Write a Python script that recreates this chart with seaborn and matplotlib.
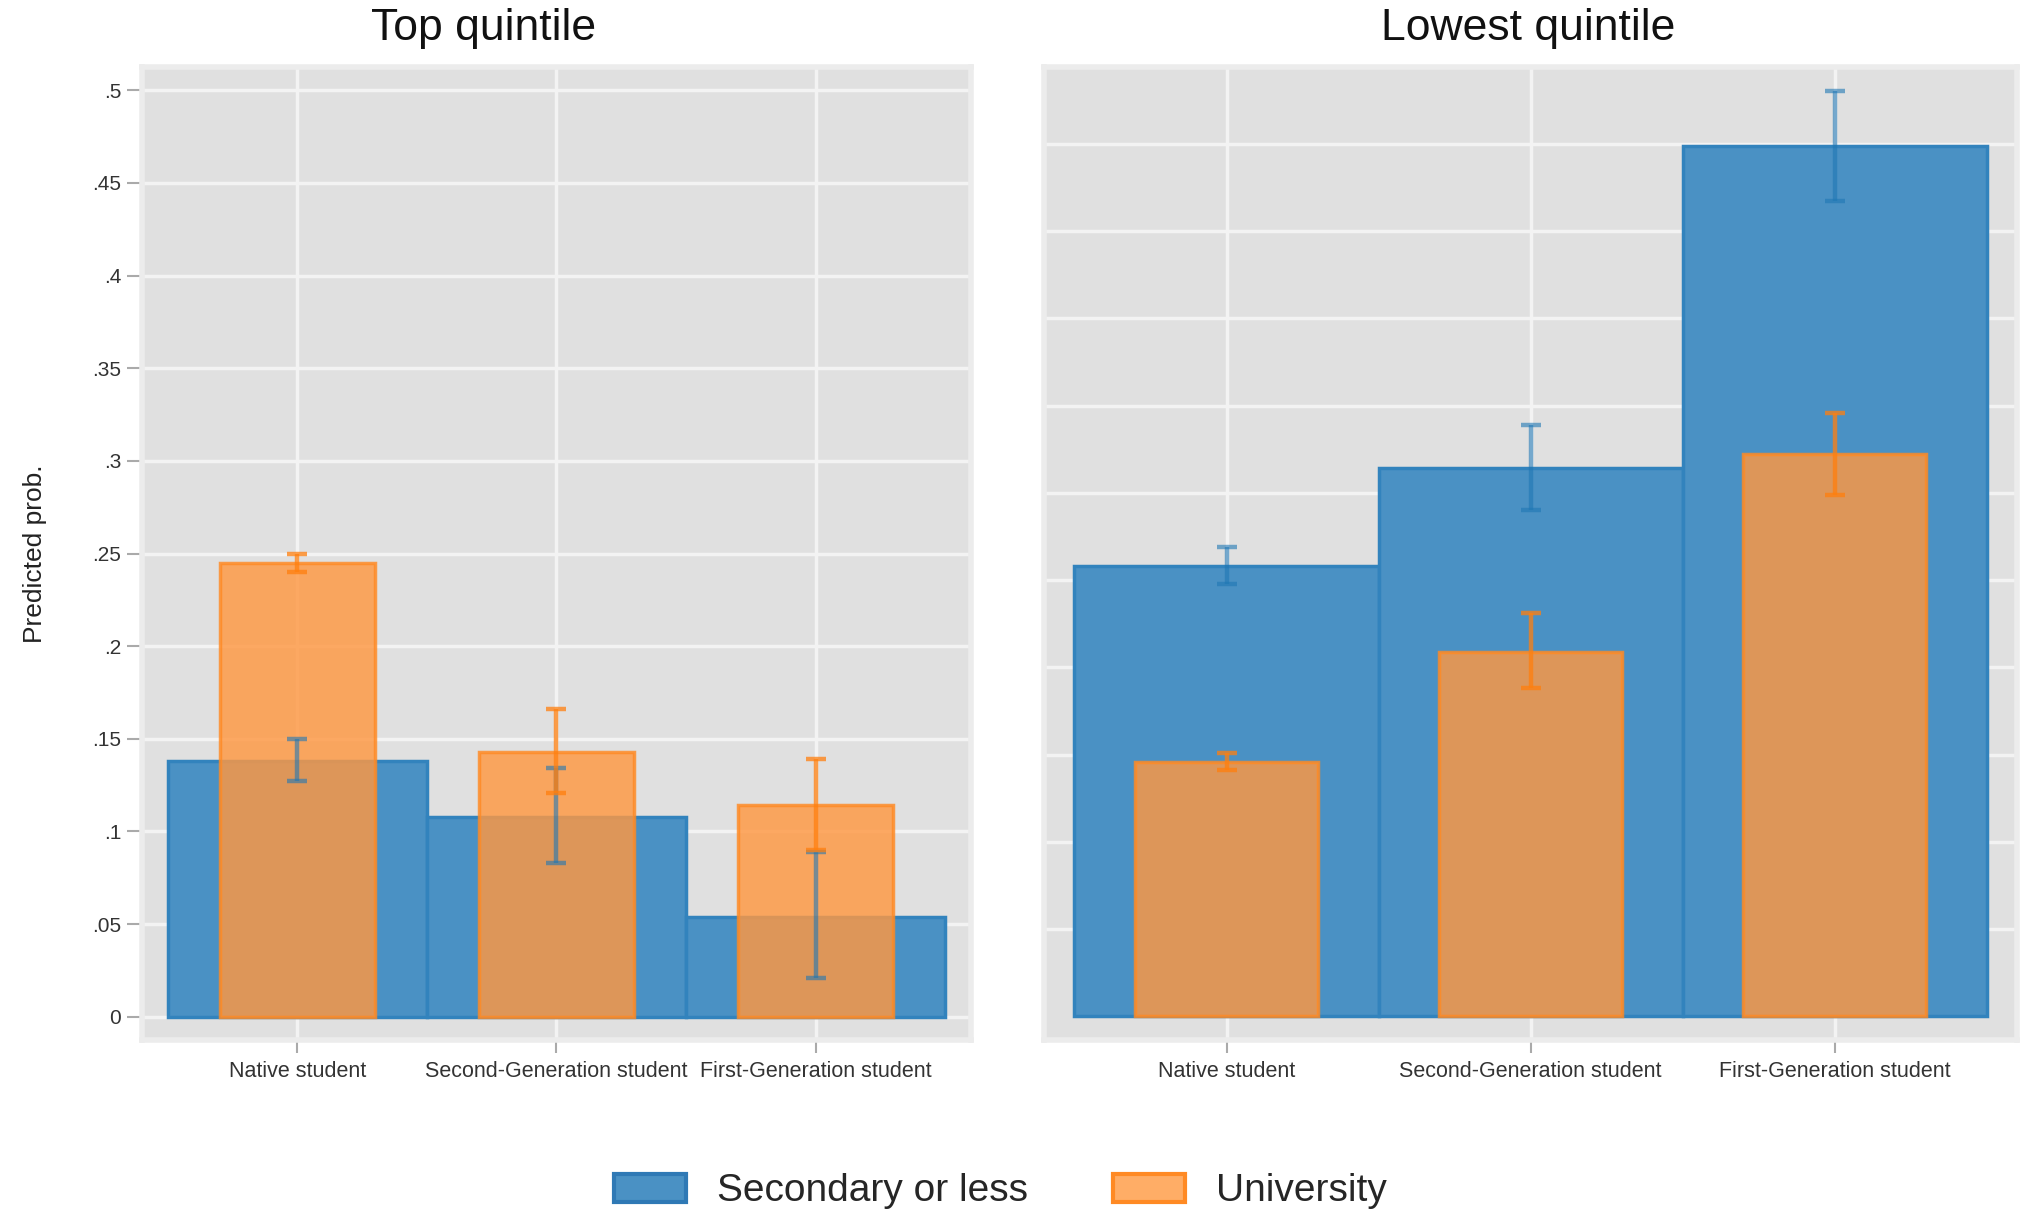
import numpy as np
import seaborn as sns
import matplotlib.pyplot as plt
from matplotlib.patches import Patch

# categorias y valores
cats = ["Native student", "Second-Generation student", "First-Generation student"]

top_sec = [0.138, 0.108, 0.054]
top_sec_lo = [0.127, 0.083, 0.021]
top_sec_hi = [0.150, 0.134, 0.089]
top_uni = [0.245, 0.143, 0.114]
top_uni_lo = [0.240, 0.121, 0.090]
top_uni_hi = [0.250, 0.166, 0.139]

low_sec = [0.258, 0.314, 0.499]
low_sec_lo = [0.248, 0.290, 0.467]
low_sec_hi = [0.269, 0.339, 0.530]
low_uni = [0.146, 0.209, 0.322]
low_uni_lo = [0.141, 0.188, 0.299]
low_uni_hi = [0.151, 0.231, 0.346]

ytick_vals = [0, 0.05, 0.1, 0.15, 0.2, 0.25, 0.3, 0.35, 0.4, 0.45, 0.5]
ytick_labels = ["0", ".05", ".1", ".15", ".2", ".25", ".3", ".35", ".4", ".45", ".5"]

series_names = ["Secondary or less", "University"]

sns.set_theme(style="white")
plt.rcParams['font.family'] = ['Liberation Sans', 'DejaVu Sans']

blue_face = '#4a91c4'
blue_edge = '#3283bd'
orange_face = '#ff9842'
orange_edge = '#ff8a24'

fig = plt.figure(figsize=(20.25, 12.12), dpi=100)
ax1 = fig.add_axes([0.0701, 0.1419, 0.4094, 0.8028])
ax2 = fig.add_axes([0.5156, 0.1419, 0.4805, 0.8028])


def panel(ax, sec, sec_lo, sec_hi, uni, uni_lo, uni_hi):
    ax.set_facecolor('#e0e0e0')
    sns.barplot(x=cats, y=sec, width=1.0, color=blue_face, saturation=1,
                errorbar=None, edgecolor=blue_edge, linewidth=2.5, ax=ax, zorder=2)
    sns.barplot(x=cats, y=uni, width=0.6, color=orange_face, saturation=1,
                errorbar=None, edgecolor=orange_edge, linewidth=2.5, alpha=0.82,
                ax=ax, zorder=3)
    pos = np.arange(len(cats))
    for lo, hi, col, a in [(sec_lo, sec_hi, '#1f77b4', 0.6),
                           (uni_lo, uni_hi, '#ff7f0e', 0.75)]:
        lo = np.array(lo)
        hi = np.array(hi)
        ax.errorbar(pos, (lo + hi) / 2, yerr=(hi - lo) / 2, fmt='none',
                    ecolor=col, alpha=a, elinewidth=3.2, capsize=7,
                    capthick=3.2, zorder=4)
    ax.set_axisbelow(True)
    ax.grid(True, color='#f3f3f3', linewidth=2.5)
    ax.set_xlim(-0.6, 2.6)
    ax.set_xlabel('')
    ax.set_ylabel('')
    for s in ax.spines.values():
        s.set_color('#ececec')
        s.set_linewidth(4)
    ax.tick_params(axis='x', bottom=True, length=9, width=1.5, color='#aaaaaa',
                   labelsize=15.5, labelcolor='#333333', pad=6)


panel(ax1, top_sec, top_sec_lo, top_sec_hi, top_uni, top_uni_lo, top_uni_hi)
panel(ax2, low_sec, low_sec_lo, low_sec_hi, low_uni, low_uni_lo, low_uni_hi)

ax1.set_ylim(-0.0126, 0.5126)
ax1.set_yticks(ytick_vals)
ax1.set_yticklabels(ytick_labels)
ax1.tick_params(axis='y', left=True, length=11, width=1.5, color='#aaaaaa',
                labelsize=15, labelcolor='#333333', pad=4)
ax1.set_ylabel('Predicted prob.', fontsize=19, color='#222222')
ax1.yaxis.set_label_coords(-0.115, 0.5)

ax2.set_ylim(-0.0135, 0.544)
ax2.set_yticks(ytick_vals[1:])
ax2.tick_params(axis='y', left=False, labelleft=False)

fig.text(0.239, 0.9765, 'Top quintile', fontsize=32, ha='center', va='center', color='#111111')
fig.text(0.7545, 0.9765, 'Lowest quintile', fontsize=32, ha='center', va='center', color='#111111')

handles = [Patch(facecolor=blue_face, edgecolor='#2f79b5', linewidth=3),
           Patch(facecolor='#ffad66', edgecolor=orange_edge, linewidth=3)]
fig.legend(handles, series_names, loc='center', bbox_to_anchor=(0.494, 0.017),
           ncol=2, frameon=False, fontsize=28, handlelength=1.85, handleheight=0.73,
           handletextpad=0.8, columnspacing=2.2)

fig.savefig('out.png', dpi=100)
